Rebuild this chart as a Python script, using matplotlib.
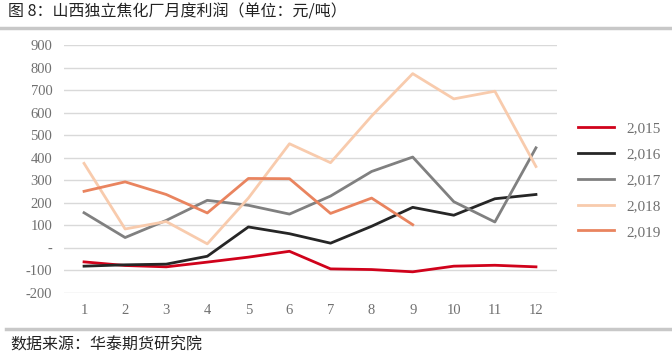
import matplotlib
matplotlib.use('Agg')
import matplotlib.pyplot as plt
from matplotlib.lines import Line2D

plt.rcParams['font.family'] = ['Noto Sans CJK SC', 'DejaVu Sans']

months = list(range(1, 13))
y2015 = [-62, -78, -84, -63, -41, -15, -93, -96, -106, -81, -77, -84]
y2016 = [-81, -75, -72, -37, 93, 63, 21, 96, 180, 145, 218, 237]
y2017 = [156, 46, 122, 211, 189, 150, 230, 339, 403, 205, 115, 444]
y2018 = [375, 84, 117, 18, 221, 462, 378, 585, 773, 661, 695, 361]
y2019 = [251, 293, 237, 155, 308, 307, 153, 221, 103]
labels = ['2,015', '2,016', '2,017', '2,018', '2,019']
yticks = [-200, -100, 0, 100, 200, 300, 400, 500, 600, 700, 800, 900]
ytick_labels = ['-200', '-100', '-', '100', '200', '300', '400', '500', '600', '700', '800', '900']

colors = ['#d0021b', '#262626', '#808080', '#f8cbad', '#e9845f']

fig = plt.figure(figsize=(6.72, 3.6), dpi=100)
ax = fig.add_axes([63.5/672, 1-293/360, (556.5-63.5)/672, (293-45)/360])

series = [y2015, y2016, y2017, y2018, y2019]
for s, c, lab in zip(series, colors, labels):
    ax.plot(months[:len(s)], s, color=c, lw=2, label=lab)

ax.set_xlim(0.5, 12.5)
ax.set_ylim(-200, 900)
ax.set_xticks(months)
ax.set_xticklabels([str(m) for m in months], family='Liberation Serif', fontsize=10.5, color='#707070')
ax.set_yticks(yticks)
ax.set_yticklabels(ytick_labels, family='Liberation Serif', fontsize=10.5, color='#707070')
ax.tick_params(length=0, pad=8)
ax.yaxis.grid(True, color='#d9d9d9', lw=1)
ax.set_axisbelow(True)
for sp in ax.spines.values():
    sp.set_visible(False)

leg = ax.legend(loc='center left', bbox_to_anchor=(1.015, 0.455), frameon=False,
                prop={'family': 'Liberation Serif', 'size': 11}, labelcolor='#707070',
                handlelength=2.4, labelspacing=0.8)

fig.text(8/672, 1-12/360, '图 8：山西独立焦化厂月度利润（单位：元/吨）', fontsize=11.5,
         va='center', ha='left', color='#222222')
fig.add_artist(Line2D([0, 1], [1-28/360, 1-28/360], color='#c8c8c8', lw=2.5))
fig.add_artist(Line2D([6/672, 1], [1-329/360, 1-329/360], color='#c8c8c8', lw=2.5))
fig.text(10/672, 1-345/360, '数据来源：华泰期货研究院', fontsize=11.5,
         va='center', ha='left', color='#222222')

fig.savefig('out.png', dpi=100)
